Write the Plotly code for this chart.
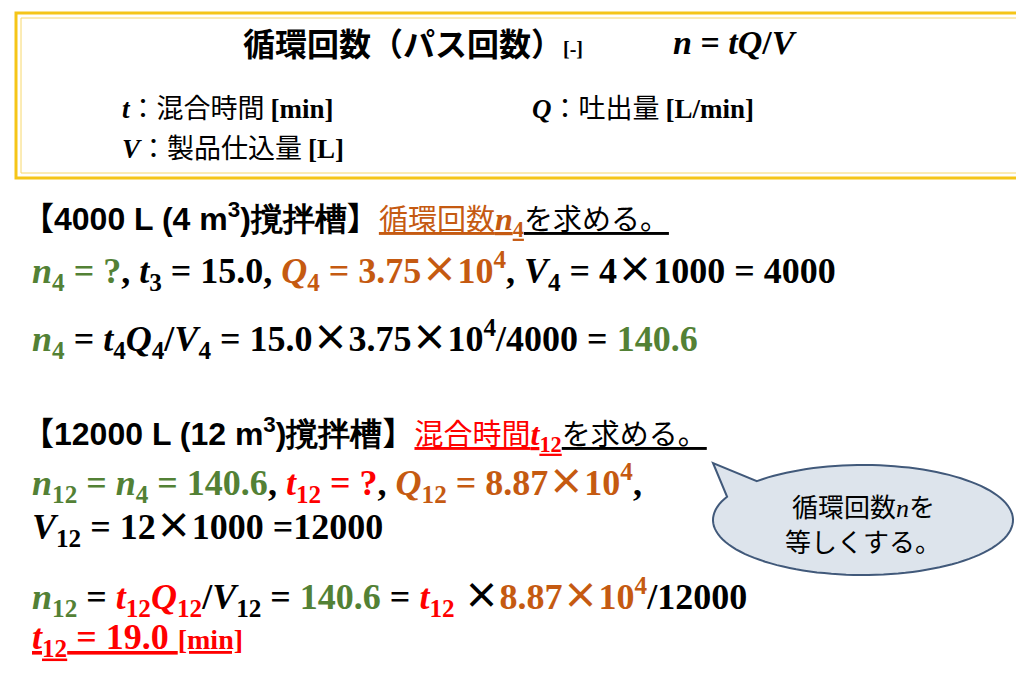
import numpy as np
import plotly.graph_objects as go

# values
tank_small = "4000 L (4 m<sup>3</sup>)撹拌槽"
tank_large = "12000 L (12 m<sup>3</sup>)撹拌槽"
t4 = "15.0"
Q4 = "3.75"
Q12 = "8.87"
V4 = ["4", "1000", "4000"]
V12 = ["12", "1000", "12000"]
n4 = "140.6"
t12 = "19.0"
bubble_text = ["循環回数<i style='font-family:Liberation Serif'>n</i>を", "等しくする。"]

GREEN = "#538135"
ORANGE = "#C55A11"
RED = "#FF0000"
JP = "Noto Sans CJK JP"
SERIF = "Liberation Serif"
SANS = "Liberation Sans"


def c(t, col):
    return f"<span style='color:{col}'>{t}</span>"


def jp(t, size=None):
    s = f"font-family:{JP};"
    if size:
        s += f"font-size:{size}px;"
    return f"<span style='{s}'>{t}</span>"


def v(name, sub):
    return f"<i>{name}</i><sub>{sub}</sub>"


X = jp("×")
fig = go.Figure()
fig.update_xaxes(range=[0, 1024], visible=False, fixedrange=True)
fig.update_yaxes(range=[685, 0], visible=False, fixedrange=True)


def add(x, y, text, size=36, family=SERIF, anchor="left"):
    fig.add_annotation(x=x, y=y - 8, text=text, showarrow=False, xanchor=anchor,
                       yanchor="middle", font=dict(family=family, size=size, color="black"))


# header box
fig.add_shape(type="rect", x0=8, y0=5, x1=1020, y1=170, line=dict(color="#F5C518", width=3))
fig.add_shape(type="rect", x0=13, y0=10, x1=1015, y1=165, line=dict(color="#F8D86A", width=1))
add(405, 42, "<b>" + jp("循環回数（パス回数）", 32) + "<span style='font-size:20px'>[-]</span></b>",
    anchor="center")
add(663, 42, "<b><i>n</i> = <i>tQ</i>/<i>V</i></b>", size=34)
add(112, 106, "<b><i>t</i></b>" + jp("：混合時間 ", 27) + "<b>[min]</b>", size=27)
add(522, 106, "<b><i>Q</i></b>" + jp("：吐出量 ", 27) + "<b>[L/min]</b>", size=27)
add(112, 146, "<b><i>V</i></b>" + jp("：製品仕込量 ", 27) + "<b>[L]</b>", size=27)

# 4000 L
add(12, 217, "<b>" + jp("【", 32) + f"<span style='font-family:{SANS}'>{tank_small}</span>" + jp("】", 32)
    + "</b>" + c("<u>" + jp("循環回数", 29) + f"<b style='font-family:{SERIF}'><i>n</i><sub>4</sub></b></u>", ORANGE)
    + "<u>" + jp("を求める。", 29) + "</u>", size=32, family=JP)
add(22, 268, "<b>" + c(v("n", 4) + " = ?", GREEN) + ", " + v("t", 3) + f" = {t4}, "
    + c(v("Q", 4) + f" = {Q4}{X}10<sup>4</sup>", ORANGE) + ", " + v("V", 4)
    + f" = {V4[0]}{X}{V4[1]} = {V4[2]}</b>")
add(22, 336, "<b>" + c(v("n", 4), GREEN) + " = " + v("t", 4) + v("Q", 4) + "/" + v("V", 4)
    + f" = {t4}{X}{Q4}{X}10<sup>4</sup>/{V4[2]} = " + c(n4, GREEN) + "</b>")

# 12000 L
add(12, 432, "<b>" + jp("【", 32) + f"<span style='font-family:{SANS}'>{tank_large}</span>" + jp("】", 32)
    + "</b>" + c("<u>" + jp("混合時間", 29) + f"<b style='font-family:{SERIF}'><i>t</i><sub>12</sub></b></u>", RED)
    + "<u>" + jp("を求める。", 29) + "</u>", size=32, family=JP)
add(22, 480, "<b>" + c(v("n", 12) + " = " + v("n", 4) + f" = {n4}", GREEN) + ", "
    + c(v("t", 12) + " = ?", RED) + ", " + c(v("Q", 12) + f" = {Q12}{X}10<sup>4</sup>", ORANGE) + ",</b>")
add(22, 524, "<b>" + v("V", 12) + f" = {V12[0]}{X}{V12[1]} ={V12[2]}</b>")
add(22, 594, "<b>" + c(v("n", 12), GREEN) + " = " + c(v("t", 12) + v("Q", 12), RED) + "/" + v("V", 12)
    + " = " + c(n4, GREEN) + " = " + c(v("t", 12), RED) + " " + X
    + c(f"{Q12}{X}10<sup>4</sup>", ORANGE) + f"/{V12[2]}</b>")
add(22, 639, c("<b><u>" + v("t", 12) + f" = {t12} <span style='font-size:28px'>[min]</span></u></b>", RED))

# speech bubble
cx, cy, rx, ry = 855, 512, 150, 55
ang = np.radians(np.linspace(225, 205 + 360, 120))
pts = [(cx + rx * np.cos(a), cy + ry * np.sin(a)) for a in ang]
path = f"M {pts[0][0]:.1f},{pts[0][1]:.1f} " + " ".join(f"L {x:.1f},{y:.1f}" for x, y in pts[1:])
path += " L 705,455 Z"
fig.add_shape(type="path", path=path, fillcolor="#DDE4EC", line=dict(color="#41597A", width=2))
add(cx, 505, bubble_text[0], size=26, family=JP, anchor="center")
add(cx, 540, bubble_text[1], size=26, family=JP, anchor="center")

fig.update_layout(width=1024, height=685, margin=dict(l=0, r=0, t=0, b=0),
                  plot_bgcolor="white", paper_bgcolor="white", showlegend=False)
fig.write_html("out.html")
